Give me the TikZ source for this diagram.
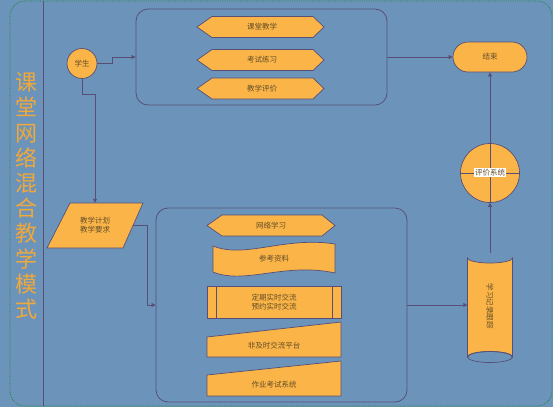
\documentclass[tikz,border=0pt]{standalone}
\usepackage{fontspec}
\newfontfamily\cjk{Noto Sans CJK SC}
\usetikzlibrary{shapes.geometric,shapes.misc,arrows.meta,calc}
\definecolor{bg}{RGB}{108,148,186}
\definecolor{shapefill}{RGB}{250,180,72}
\definecolor{edge}{RGB}{88,78,118}
\definecolor{txt}{RGB}{100,78,40}
\definecolor{titlec}{RGB}{240,168,58}
\definecolor{framegreen}{RGB}{30,140,60}
\tikzset{
  shp/.style={draw=edge, fill=shapefill, line width=0.7pt},
  lbl/.style={text=txt, font=\cjk\fontsize{7.5}{9}\selectfont, align=center, inner sep=0pt},
  holder/.style={draw=none, inner sep=0pt},
  box/.style={draw=edge, line width=0.8pt, rounded corners=12pt, inner sep=0pt},
  conn/.style={draw=edge, line width=0.7pt, -{Triangle[length=4pt,width=4pt]}},
}
\begin{document}
\begin{tikzpicture}[x=1pt,y=-1pt]
\fill[bg] (0,0) rectangle (553,407);
\useasboundingbox (0,0) rectangle (553,407);
\draw[framegreen, densely dotted, line width=0.8pt, rounded corners=15pt] (10,1) rectangle (552,406);
\draw[edge, line width=0.8pt] (43,1) -- (43,406);
\node[text=titlec, font=\cjk\fontsize{22}{25.2}\selectfont, align=center, inner sep=0pt] (title) at (27,196) {课\\堂\\网\\络\\混\\合\\教\\学\\模\\式};

% containers
\node[box, minimum width=251pt, minimum height=96pt] (top) at (261.5,57) {};
\node[box, minimum width=251pt, minimum height=194pt] (bot) at (281.5,305) {};

% student
\node[circle, shp, minimum size=30pt, inner sep=0pt, lbl] (stu) at (82,63.5) {学生};

% hexagons in top box
\foreach \yc/\t/\n in {27/课堂教学/h1, 60/考试练习/h2, 88.5/教学评价/h3}{
  \path[shp] (197,\yc) -- (212,\yc-10.5) -- (313,\yc-10.5) -- (324,\yc) -- (313,\yc+10.5) -- (212,\yc+10.5) -- cycle;
  \node[lbl] (\n) at (262,\yc) {\t};
}

% end
\node[rounded rectangle, shp, minimum width=74pt, minimum height=30pt, inner sep=0pt, lbl] (end) at (490,57) {结束};

% evaluation circle
\node[circle, shp, minimum size=59pt, inner sep=0pt] (eval) at (490,173) {};
\draw[edge, line width=0.7pt] (eval.west) -- (eval.east);
\draw[edge, line width=0.7pt] (eval.north) -- (eval.south);
\node[fill=white, text=txt, font=\cjk\fontsize{7.5}{9}\selectfont, inner sep=1pt] (evallbl) at (490,172.5) {评价系统};

% plan parallelogram
\node[holder, minimum width=76pt, minimum height=45pt] (plan) at (95,225.5) {};
\path[shp] (70,203) -- (143,203) -- (123,248) -- (47,248) -- cycle;
\node[lbl] (planlbl) at (plan.center) {教学计划\\教学要求};

% cylinder
\node[holder, minimum width=45pt, minimum height=110pt] (cyl) at (490,308) {};
\path[shp] (467.5,258) arc[start angle=180, end angle=0, x radius=22.5, y radius=5] -- (512.5,357) arc[start angle=0, end angle=-180, x radius=22.5, y radius=5.5] -- cycle;
\draw[edge, line width=0.7pt] (490,357) ellipse[x radius=22.5, y radius=5.5];
\node[lbl, rotate=-90] (cyllbl) at (490,306) {学习记录跟踪};

% bottom box contents
\path[shp] (207,225.5) -- (222,215) -- (322,215) -- (335,225.5) -- (322,236) -- (222,236) -- cycle;
\node[lbl] (net) at (271,225.5) {网络学习};

\path[shp] (213,246) .. controls (245,259) and (285,236) .. (335,244) -- (335,273) .. controls (285,262) and (245,285) .. (213,272) -- cycle;
\node[lbl] (ref) at (274,259) {参考资料};

\path[shp] (207,286) rectangle (341,318);
\draw[edge, line width=0.7pt] (216,286) -- (216,318) (332,286) -- (332,318);
\node[lbl] (rt) at (274,302) {定期实时交流\\预约实时交流};

\path[shp] (207,337) -- (341,322) -- (341,357) -- (207,357) -- cycle;
\node[lbl] (nrt) at (274,346) {非及时交流平台};

\path[shp] (207,375) -- (341,361) -- (341,396) -- (207,396) -- cycle;
\node[lbl] (exam) at (274,385) {作业考试系统};

% connectors
\draw[conn] (stu.east) -- ($(stu.east)+(15,0)$) |- (top.west);
\draw[conn] (top.east) -- (end.west);
\draw[conn] (stu.south) -- ($(stu.south)+(0,15)$) -| (plan.north);
\draw[conn] (plan.east) -- ($(plan.east)+(14,0)$) |- (bot.west);
\draw[conn] (bot.east) -- (bot.east -| cyl.west);
\draw[conn] (cyl.north) -- (eval.south);
\draw[conn] (eval.north) -- (end.south);
\end{tikzpicture}
\end{document}
